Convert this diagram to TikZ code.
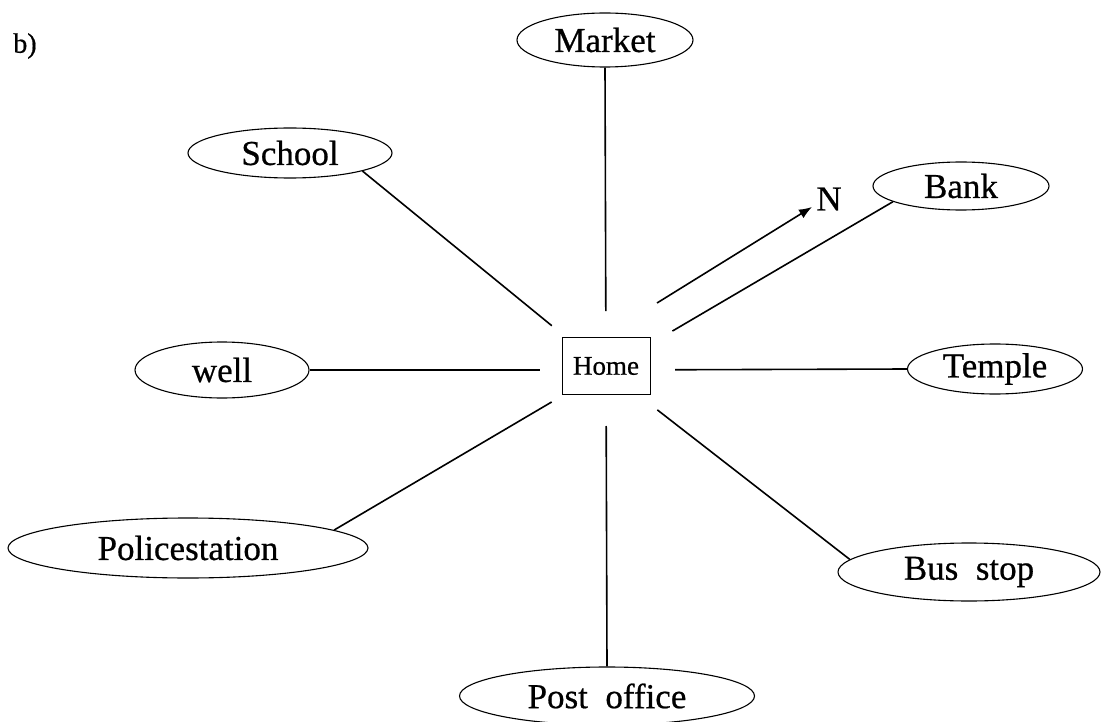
\documentclass[tikz,border=0pt]{standalone}
\usepackage{fontspec}
\setmainfont{Liberation Serif}
\newfontfamily\lblfont{Liberation Serif}[FakeBold=0.6]
\usetikzlibrary{shapes.geometric,arrows.meta}
\tikzset{
  place/.style={draw, ellipse, line width=1.1pt, inner sep=0pt, font=\lblfont\fontsize{35}{40}\selectfont},
  conn/.style={line width=1.6pt},
  homebox/.style={draw, rectangle, line width=0.9pt, minimum width=88pt, minimum height=57pt, inner sep=0pt, font=\lblfont\fontsize{27}{30}\selectfont},
}
\begin{document}
\begin{tikzpicture}[x=1pt,y=-1pt]
\useasboundingbox (0,0) rectangle (1103,722);
\node[font=\lblfont\fontsize{28}{32}\selectfont] (lab) at (25,46) {b)};
\node[homebox] (home) at (606,366) {Home};
\coordinate (hub) at (606,370);
\node[place, minimum width=176pt, minimum height=54pt] (market) at (605,40) {Market};
\node[place, minimum width=204pt, minimum height=50pt] (school) at (290,153) {School};
\node[place, minimum width=176pt, minimum height=48pt] (bank) at (961,186) {Bank};
\node[place, minimum width=174pt, minimum height=56pt] (well) at (222,370) {well};
\node[place, minimum width=175pt, minimum height=50pt] (temple) at (995,369) {Temple};
\node[place, minimum width=360pt, minimum height=60pt] (police) at (188,548) {Policestation};
\node[place, minimum width=262pt, minimum height=58pt] (bus) at (969,572) {Bus\ \ stop};
\node[place, minimum width=295pt, minimum height=58pt] (post) at (607,696) {Post\ \ office};
\draw[conn, shorten >=59pt] (market.south) -- (hub);
\draw[conn, shorten >=70pt] (school.-14) -- (hub);
\draw[conn, shorten >=77pt] (bank.193) -- (hub);
\draw[conn, shorten >=66pt] (well.east) -- (hub);
\draw[conn, shorten >=69pt] (temple.west) -- (hub);
\draw[conn, shorten >=63pt] (police.7) -- (hub);
\draw[conn, shorten >=56pt] (post.north) -- (hub);
\draw[conn, shorten >=65pt] (bus.174) -- (hub);
\coordinate (n1) at (657,303);
\coordinate (n2) at (812,207);
\draw[conn, -{Latex[length=13pt,width=10pt]}] (n1) -- (n2);
\node[font=\lblfont\fontsize{35}{40}\selectfont] (nlab) at (829,199) {N};
\end{tikzpicture}
\end{document}
